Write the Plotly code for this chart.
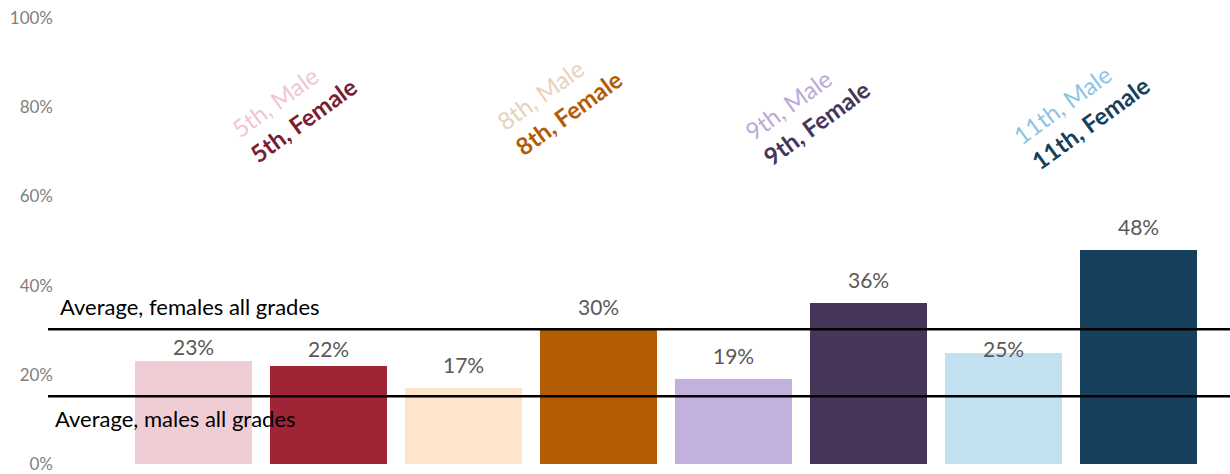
import plotly.graph_objects as go

categories = ["5th, Male", "5th, Female", "8th, Male", "8th, Female",
              "9th, Male", "9th, Female", "11th, Male", "11th, Female"]
values = [23, 22, 17, 30, 19, 36, 25, 48]
bar_colors = ["#F0CCD4", "#9E2436", "#FDE4CC", "#B35C04",
              "#C1B1DC", "#47355A", "#C3E0F1", "#16405B"]
grades = ["5th", "8th", "9th", "11th"]
male_label_colors = ["#EFC7D0", "#E6D3BB", "#BBA9D6", "#8CC4E4"]
female_label_colors = ["#7B1D30", "#B35C04", "#47355A", "#16405B"]
avg_female = 30.2
avg_male = 15.2
y_ticks = [0, 20, 40, 60, 80, 100]

FONT = "Lato"
x_idx = list(range(len(categories)))

fig = go.Figure()
fig.add_trace(go.Bar(
    x=x_idx, y=values, marker=dict(color=bar_colors, line=dict(width=0)),
    width=0.87, hoverinfo="skip", showlegend=False,
))

# value labels (pixel offsets above bar tops, as placed in the original)
value_label_shift = [0, 3, 9, 9, 9, 9, -10, 9]
for i, v in zip(x_idx, values):
    fig.add_annotation(x=i, y=v, text=f"{v}%", showarrow=False,
                       yanchor="bottom", yshift=value_label_shift[i],
                       font=dict(family=FONT, size=21, color="#595959"))

# rotated grade legends
label_shift_x = [33, 28, 6, 10]
label_y = [80, 81.7, 79.4, 79.4]
for g, grade in enumerate(grades):
    txt = (f"<span style='color:{male_label_colors[g]}'>{grade}, Male</span><br>"
           f"<b><span style='color:{female_label_colors[g]}'>{grade}, Female</span></b>")
    fig.add_annotation(x=2 * g + 0.5, y=label_y[g], xshift=label_shift_x[g],
                       text=txt, showarrow=False, textangle=-36, align="left",
                       font=dict(family=FONT, size=24))

# average lines
for val in (avg_female, avg_male):
    fig.add_shape(type="line", xref="paper", yref="y", x0=-0.0085, x1=1,
                  y0=val, y1=val, line=dict(color="black", width=2.5), layer="above")

fig.add_annotation(xref="paper", x=0, y=avg_female, yanchor="bottom", xanchor="left",
                   yshift=7, text="Average, females all grades", showarrow=False,
                   font=dict(family=FONT, size=22, color="black"))
fig.add_annotation(xref="paper", x=0, y=avg_male, yanchor="top", xanchor="left",
                   yshift=-7, xshift=-5, text="Average, males all grades", showarrow=False,
                   font=dict(family=FONT, size=22, color="black"))

fig.update_layout(
    width=1230, height=474,
    margin=dict(l=58, r=0, t=18, b=10),
    plot_bgcolor="white", paper_bgcolor="white",
    xaxis=dict(range=[-1.004, 7.678], showticklabels=False, showgrid=False,
               zeroline=False, showline=False, fixedrange=True),
    yaxis=dict(range=[0, 100], tickvals=y_ticks, ticktext=[f"{t}%" for t in y_ticks],
               showgrid=False, zeroline=False, showline=False, ticklabelstandoff=4,
               tickfont=dict(family=FONT, size=17, color="#7F7F7F")),
    bargap=0,
)

fig.write_html("out.html", config={"displayModeBar": False},
               post_script="document.body.style.margin='0';document.body.style.overflow='hidden';")
